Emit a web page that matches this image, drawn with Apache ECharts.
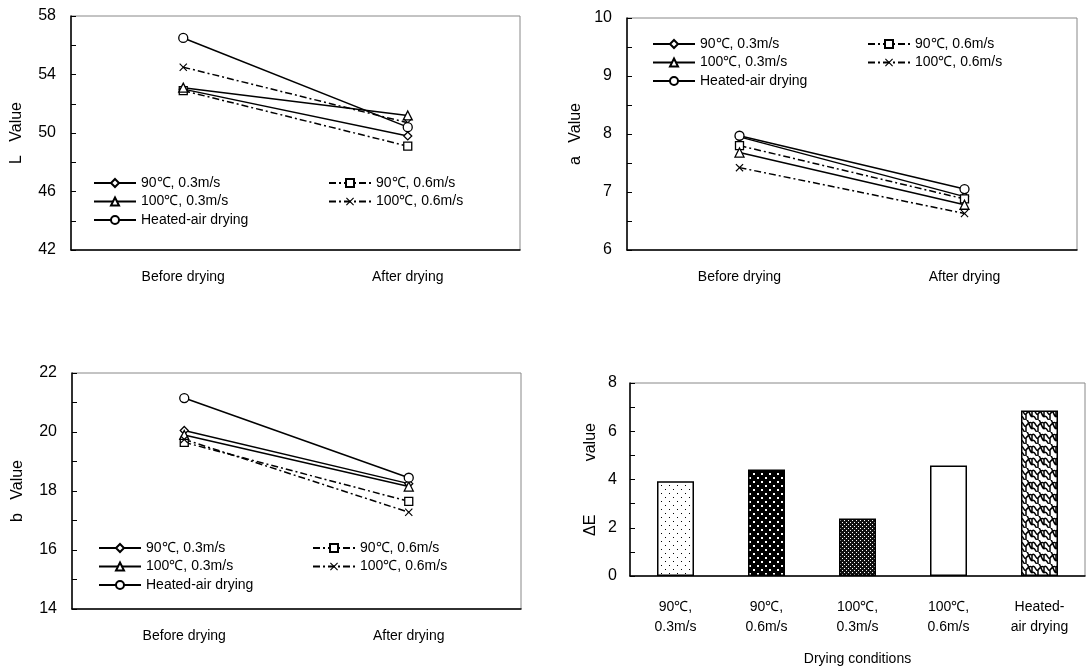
<!DOCTYPE html>
<html>
<head>
<meta charset="utf-8">
<script src="https://cdn.jsdelivr.net/npm/echarts@6/dist/echarts.min.js"></script>
<style>
  html, body { margin: 0; padding: 0; background: #fff; }
  #chart { width: 1090px; height: 667px; }
</style>
</head>
<body>
<div id="chart"></div>
<script>
// data
var stages = ['Before drying', 'After drying'];
var seriesNames = ['90℃, 0.3m/s', '90℃, 0.6m/s', '100℃, 0.3m/s', '100℃, 0.6m/s', 'Heated-air drying'];

var lValues = [
  [53.0, 49.8],
  [52.9, 49.1],
  [53.1, 51.2],
  [54.5, 50.7],
  [56.5, 50.4]
];
var aValues = [
  [7.95, 6.92],
  [7.80, 6.88],
  [7.68, 6.78],
  [7.42, 6.63],
  [7.97, 7.05]
];
var bValues = [
  [20.05, 18.25],
  [19.65, 17.65],
  [19.90, 18.15],
  [19.75, 17.28],
  [21.15, 18.45]
];

var conditions = ['90℃,\n0.3m/s', '90℃,\n0.6m/s', '100℃,\n0.3m/s', '100℃,\n0.6m/s', 'Heated-\nair drying'];
var deltaE = [3.93, 4.41, 2.38, 4.58, 6.86];

var FONT = 'Liberation Sans, Arial, sans-serif';
var dashDot = [7, 3, 2, 3];
var crossPath = 'path://M0,1L1,0L5,4L9,0L10,1L6,5L10,9L9,10L5,6L1,10L0,9L4,5Z';

// marker + line style for each series
var styles = [
  { symbol: 'diamond', size: 8, type: 'solid' },
  { symbol: 'rect', size: 8, type: dashDot },
  { symbol: 'triangle', size: 9, type: 'solid' },
  { symbol: crossPath, size: 8, type: dashDot },
  { symbol: 'circle', size: 9, type: 'solid' }
];

// bar fill patterns
function pattern(w, h, draw) {
  var c = document.createElement('canvas');
  c.width = w; c.height = h;
  var ctx = c.getContext('2d');
  draw(ctx);
  return { image: c, repeat: 'repeat' };
}
var fills = [
  pattern(8, 8, function (ctx) {
    ctx.fillStyle = '#fff'; ctx.fillRect(0, 0, 8, 8);
    ctx.fillStyle = '#000'; ctx.fillRect(1, 1, 1, 1); ctx.fillRect(5, 5, 1, 1);
  }),
  pattern(8, 8, function (ctx) {
    ctx.fillStyle = '#000'; ctx.fillRect(0, 0, 8, 8);
    ctx.fillStyle = '#fff'; ctx.fillRect(1, 1, 2, 2); ctx.fillRect(5, 5, 2, 2);
  }),
  pattern(4, 4, function (ctx) {
    ctx.fillStyle = '#111'; ctx.fillRect(0, 0, 4, 4);
    ctx.fillStyle = '#fff'; ctx.fillRect(0, 0, 1, 1); ctx.fillRect(2, 2, 1, 1);
  }),
  '#fff',
  pattern(12, 12, function (ctx) {
    ctx.fillStyle = '#fff'; ctx.fillRect(0, 0, 12, 12);
    ctx.strokeStyle = '#000'; ctx.lineWidth = 1.5;
    ctx.beginPath();
    ctx.moveTo(0, 3); ctx.bezierCurveTo(3, 0, 4, 8, 6, 6); ctx.bezierCurveTo(8, 4, 9, 1, 12, 3);
    ctx.moveTo(0, 9); ctx.bezierCurveTo(3, 6, 4, 14, 6, 12);
    ctx.moveTo(6, 0); ctx.bezierCurveTo(8, -2, 9, 7, 12, 9);
    ctx.moveTo(6, 6); ctx.lineTo(6, 12);
    ctx.moveTo(0, 3); ctx.lineTo(0, 9);
    ctx.moveTo(12, 3); ctx.lineTo(12, 9);
    ctx.stroke();
  })
];

var grids = [
  { left: 71, width: 449, top: 16, height: 234 },
  { left: 627, width: 450, top: 18, height: 232 },
  { left: 72, width: 449, top: 373, height: 236 },
  { left: 630, width: 455, top: 383, height: 196 }
];
grids.forEach(function (g) {
  g.show = true; g.borderColor = '#888'; g.borderWidth = 1; g.backgroundColor = 'transparent';
});

var axisText = { color: '#000', fontFamily: FONT, fontSize: 16 };

function yAxis(idx, min, max, step, labelStep, name, gap) {
  return {
    type: 'value', gridIndex: idx, min: min, max: max, interval: step,
    name: name, nameLocation: 'middle', nameGap: gap, nameMoveOverlap: false,
    nameTextStyle: { color: '#000', fontFamily: FONT, fontSize: 16 },
    axisLine: { show: true, lineStyle: { color: '#000', width: 1.5 } },
    axisTick: { show: true, inside: true, length: 5, lineStyle: { color: '#000' } },
    splitLine: { show: false },
    axisLabel: Object.assign({
      margin: 15,
      formatter: function (v) {
        var k = Math.round((v - min) / labelStep * 1000) / 1000;
        return Number.isInteger(k) ? String(v) : '';
      }
    }, axisText)
  };
}

function xAxis(idx, data) {
  return {
    type: 'category', gridIndex: idx, data: data, boundaryGap: true,
    axisLine: { show: true, lineStyle: { color: '#000', width: 1.5 } },
    axisTick: { show: false },
    axisLabel: { color: '#000', fontFamily: FONT, fontSize: 14, margin: 17, lineHeight: 20 }
  };
}

var xAxes = [xAxis(0, stages), xAxis(1, stages), xAxis(2, stages), xAxis(3, conditions)];
xAxes[3].axisLabel.margin = 21;
xAxes[3].name = 'Drying conditions';
xAxes[3].nameLocation = 'middle';
xAxes[3].nameGap = 76;
xAxes[3].nameMoveOverlap = false;
xAxes[3].nameTextStyle = { color: '#000', fontFamily: FONT, fontSize: 14 };

var yAxes = [
  yAxis(0, 42, 58, 2, 4, 'L   Value', 46),
  yAxis(1, 6, 10, 0.5, 1, 'a   Value', 43),
  yAxis(2, 14, 22, 1, 2, 'b   Value', 46),
  yAxis(3, 0, 8, 1, 2, '\u0394E            value', 31)
];
yAxes[3].axisLabel.margin = 13;

var series = [];
[lValues, aValues, bValues].forEach(function (set, gi) {
  set.forEach(function (vals, si) {
    var st = styles[si];
    series.push({
      name: seriesNames[si], type: 'line', xAxisIndex: gi, yAxisIndex: gi,
      data: vals, symbol: st.symbol, symbolSize: st.size, showAllSymbol: true,
      lineStyle: { color: '#000', width: 1.5, type: st.type },
      itemStyle: { color: si === 3 ? '#000' : '#fff', borderColor: '#000', borderWidth: si === 3 ? 0 : 1.3 },
      emphasis: { disabled: true },
      animation: false, z: 3
    });
  });
});

series.push({
  name: 'deltaE', type: 'bar', xAxisIndex: 3, yAxisIndex: 3, barWidth: 37,
  data: deltaE.map(function (v, i) {
    return { value: v, itemStyle: { color: fills[i], borderColor: '#000', borderWidth: 1.5 } };
  }),
  animation: false
});

function legend(items, left, top) {
  return {
    data: items, orient: 'vertical', left: left, top: top,
    itemWidth: 42, itemHeight: 10, itemGap: 4.5,
    textStyle: { color: '#000', fontFamily: FONT, fontSize: 14 },
    selectedMode: false, padding: 0
  };
}
var col1 = [seriesNames[0], seriesNames[2], seriesNames[4]];
var col2 = [seriesNames[1], seriesNames[3]];

var chart = echarts.init(document.getElementById('chart'), null, { renderer: 'canvas' });
chart.setOption({
  backgroundColor: '#fff',
  animation: false,
  grid: grids,
  xAxis: xAxes,
  yAxis: yAxes,
  legend: [
    legend(col1, 93, 176), legend(col2, 328, 176),
    legend(col1, 652, 37), legend(col2, 867, 37),
    legend(col1, 98, 541), legend(col2, 312, 541)
  ],
  series: series
});
</script>
</body>
</html>
